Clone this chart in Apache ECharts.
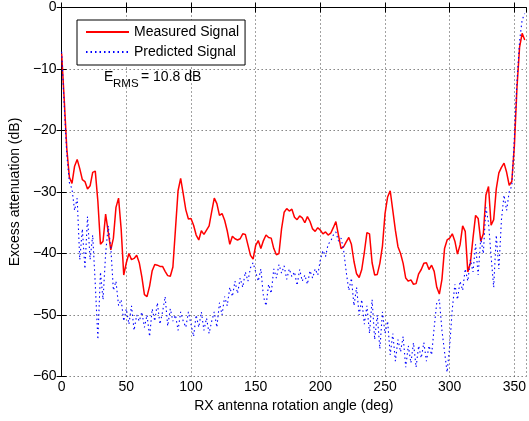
<!DOCTYPE html>
<html><head><meta charset="utf-8">
<script src="https://cdn.jsdelivr.net/npm/echarts@6/dist/echarts.min.js"></script>
<style>html,body{margin:0;padding:0;background:#fff}#c{width:529px;height:421px}</style>
</head><body><div id="c"></div>
<script>
const angles = [
  0,2,4,6,8,10,12,14,16,18, 20,22,24,26,28,30,32,34,36,38,
  40,42,44,46,48,50,52,54,56,58, 60,62,64,66,68,70,72,74,76,78,
  80,82,84,86,88,90,92,94,96,98, 100,102,104,106,108,110,112,114,116,118,
  120,122,124,126,128,130,132,134,136,138, 140,142,144,146,148,150,152,154,156,158,
  160,162,164,166,168,170,172,174,176,178, 180,182,184,186,188,190,192,194,196,198,
  200,202,204,206,208,210,212,214,216,218, 220,222,224,226,228,230,232,234,236,238,
  240,242,244,246,248,250,252,254,256,258, 260,262,264,266,268,270,272,274,276,278,
  280,282,284,286,288,290,292,294,296,298, 300,302,304,306,308,310,312,314,316,318,
  320,322,324,326,328,330,332,334,336,338, 340,342,344,346,348,350,352,354,356,358
];
const measured = [
  -7.5,-15,-23,-27.6,-28.6,-25.8,-24.7,-26.2,-28.0,-28.3,
  -29.5,-29.0,-26.8,-26.6,-31.5,-38.5,-38.0,-33.6,-36.5,-39.4,
  -37.5,-32.5,-31.0,-36,-43.5,-41.5,-40.0,-41.0,-40.8,-40.3,
  -41.5,-43.8,-46.7,-47.0,-45.3,-42.8,-41.8,-41.9,-42.1,-42.1,
  -42.9,-43.6,-43.7,-42.2,-36,-29.8,-27.8,-30.3,-32.9,-34.4,
  -34.3,-35.4,-37.0,-37.8,-36.3,-36.9,-36.2,-35.5,-33.2,-31.0,
  -31.9,-33.8,-33.5,-34.6,-36.3,-38.5,-37.2,-37.6,-37.8,-37.6,
  -36.8,-36.9,-38.6,-40.3,-40.9,-38.7,-37.9,-39.2,-37.9,-37.0,
  -37.4,-37.5,-39.2,-40.2,-40.0,-36,-33.3,-32.7,-33.1,-32.8,
  -34.1,-34.5,-33.9,-34.2,-35.0,-34.0,-34.8,-36.0,-36.4,-35.8,
  -36.2,-36.8,-36.5,-37.0,-36.7,-35.8,-34.8,-37.0,-39.2,-38.9,
  -38.1,-37.4,-38.5,-41.3,-43.3,-43.9,-42.6,-39.8,-36.6,-36.8,
  -41.5,-43.5,-43.4,-41.6,-38.8,-33.5,-30.8,-29.8,-33.0,-36.2,
  -38.9,-40.0,-41.6,-44.0,-44.5,-44.3,-45.0,-44.9,-43.3,-42.6,
  -41.6,-41.5,-42.6,-41.9,-42.9,-45.5,-46.6,-44.2,-39.2,-37.8,
  -37.5,-36.8,-38.0,-40.1,-38.6,-35.5,-36.4,-43.0,-41.5,-37.5,
  -33.8,-34.3,-38.0,-36.8,-30.5,-29.1,-35.4,-34.5,-29.5,-26.9,
  -26.0,-25.3,-26.8,-28.9,-28.3,-22.5,-13,-6.5,-4.2,-5.3
];
const predicted = [
  -7.2,-16,-24,-28.5,-29.5,-33,-31,-41,-36,-42.5,
  -34,-41,-37,-45,-54,-43,-47.5,-40,-35.5,-39,
  -46,-44.5,-48.5,-47.5,-51,-49,-51.5,-48.5,-52.5,-50,
  -51,-49.5,-52,-50,-53.5,-49,-51,-48,-51.5,-49.5,
  -47,-51.8,-49,-51,-50,-52.5,-49.5,-51,-52,-49.5,
  -51.5,-53.5,-50,-52,-49.5,-52.5,-50.5,-53,-51,-49.5,
  -52,-48,-50,-47,-48.5,-45.5,-47,-44.5,-46.5,-44,
  -45.5,-43,-44.5,-42.3,-41.5,-43,-44.5,-42.5,-47,-48.5,
  -45,-46.5,-42.5,-44,-41.8,-43.2,-42,-44.2,-42.5,-43.8,
  -43,-45.2,-42.6,-44.5,-43.5,-45,-42.8,-44,-42.5,-43.5,
  -41,-39.5,-40.5,-38.5,-38,-37,-36.5,-38,-37.5,-39.5,
  -43,-46,-44,-48.5,-45.5,-50,-47.5,-51.5,-48.5,-53,
  -47.5,-54,-50,-55.5,-49.5,-53,-51,-56.5,-53,-57.5,
  -54,-56,-53.5,-58.5,-55,-57.8,-54.5,-58.5,-55,-57,
  -54.5,-57.5,-55,-56.5,-52,-48,-47.5,-52.5,-56,-59.3,
  -55,-49,-45,-47.5,-44.5,-46,-42.5,-44.5,-41,-43,
  -38.5,-43.5,-37.5,-40,-32.5,-35,-40.5,-45.5,-37,-42.5,
  -34.5,-30.5,-33,-30,-29,-21,-12,-5.5,-2,-1
];
const xTickLabels = [0,50,100,150,200,250,300,350];
const yTickLabels = [0,-10,-20,-30,-40,-50,-60];
const seriesNames = ['Measured Signal','Predicted Signal'];
const annotation = {main:'E', sub:'RMS', rest:'= 10.8 dB'};

const FONT = '"Liberation Sans", Arial, Helvetica, sans-serif';
const measuredData = angles.map((a,i)=>[a, measured[i]]);
const predictedData = angles.map((a,i)=>[a, predicted[i]]);

const axisLineStyle = {color:'#000', width:1};
const gridLine = {show:true, lineStyle:{color:'#444', type:[1,3], width:1}};

const chart = echarts.init(document.getElementById('c'), null, {renderer:'canvas'});
chart.setOption({
  animation:false,
  backgroundColor:'#fff',
  grid:{left:59, top:7.5, right:1.5, bottom:44.5, containLabel:false},
  xAxis:[{
    type:'value', min:0, max:359, interval:50, position:'bottom',
    axisLine:{show:true, lineStyle:axisLineStyle},
    axisTick:{show:true, inside:true, length:5, lineStyle:axisLineStyle},
    axisLabel:{color:'#000', fontSize:14, fontFamily:FONT, margin:4, showMaxLabel:false,
      formatter:v=> xTickLabels.indexOf(v)>=0 ? String(v) : ''},
    splitLine:gridLine,
    name:'RX antenna rotation angle (deg)', nameLocation:'middle', nameGap:16,
    nameTextStyle:{color:'#000', fontSize:14, fontFamily:FONT, verticalAlign:'top'}
  },{
    type:'value', min:0, max:359, interval:50, position:'top',
    axisLine:{show:true, lineStyle:axisLineStyle},
    axisTick:{show:true, inside:true, length:5, lineStyle:axisLineStyle},
    axisLabel:{show:false}, splitLine:{show:false}
  }],
  yAxis:[{
    type:'value', min:-60, max:0, interval:10, position:'left',
    axisLine:{show:true, lineStyle:axisLineStyle},
    axisTick:{show:true, inside:true, length:5, lineStyle:axisLineStyle},
    axisLabel:{color:'#000', fontSize:14, fontFamily:FONT, margin:5,
      formatter:v=> yTickLabels.indexOf(v)>=0 ? String(v).replace('-','\u2212') : ''},
    splitLine:gridLine,
    name:'Excess attenuation (dB)', nameLocation:'middle', nameGap:32, nameRotate:90,
    nameTextStyle:{color:'#000', fontSize:14, fontFamily:FONT}
  },{
    type:'value', min:-60, max:0, interval:10, position:'right',
    axisLine:{show:true, lineStyle:axisLineStyle},
    axisTick:{show:true, inside:true, length:5, lineStyle:axisLineStyle},
    axisLabel:{show:false}, splitLine:{show:false}
  }],
  legend:{
    left:77, top:20, orient:'vertical', itemWidth:43, itemHeight:10, itemGap:4,
    padding:[4,6,5,8], borderColor:'#000', borderWidth:1, backgroundColor:'#fff',
    itemStyle:{opacity:0},
    textStyle:{color:'#000', fontSize:14, fontFamily:FONT, lineHeight:16},
    data:seriesNames
  },
  series:[{
    name:seriesNames[0], type:'line', data:measuredData, symbol:'none', smooth:false,
    lineStyle:{color:'#ff0000', width:1.5}, itemStyle:{color:'#ff0000'}, z:2
  },{
    name:seriesNames[1], type:'line', data:predictedData, symbol:'none', smooth:false,
    lineStyle:{color:'#0000ff', width:1.1, type:[1.5,3]}, itemStyle:{color:'#0000ff'}, z:3
  }],
  graphic:[
    {type:'text', left:104, top:70, z:10, style:{text:annotation.main, fill:'#000', font:'14px '+FONT}},
    {type:'text', left:113, top:78, z:10, style:{text:annotation.sub, fill:'#000', font:'11.5px '+FONT}},
    {type:'text', left:141, top:70, z:10, style:{text:annotation.rest, fill:'#000', font:'14px '+FONT}}
  ]
});
</script></body></html>
